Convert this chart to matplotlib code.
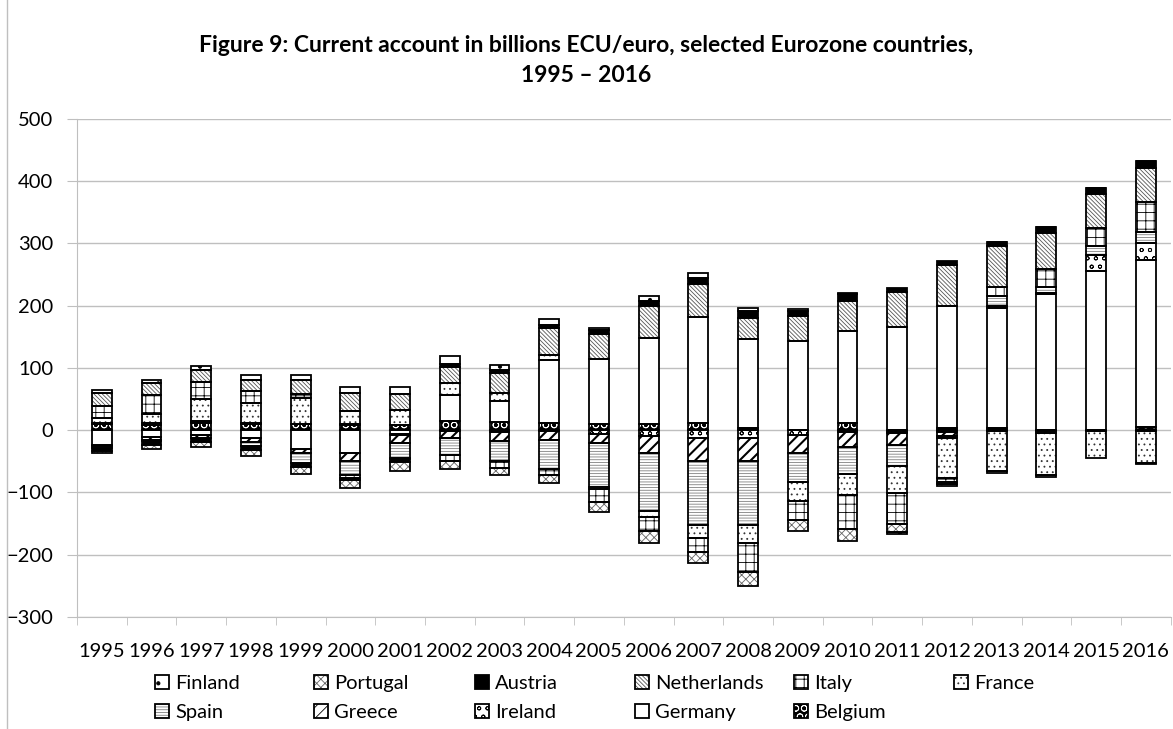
import numpy as np
import matplotlib.pyplot as plt
from matplotlib.lines import Line2D

# Current account by country, billions ECU/euro
years = [str(y) for y in range(1995, 2017)]

# stacking order as in the spreadsheet chart (first = closest to zero)
belgium     = [10, 9, 11, 10, 10, 9, 9, 15, 13, 12, 10, 10, 12, 4, 1, 12, -3, 4, 4, -2, -1, 5]
germany     = [-23, -11, -7, -13, -30, -36, -6, 42, 34, 100, 105, 138, 170, 143, 143, 147, 166, 196, 193, 218, 255, 269]
ireland     = [1, 2, 2, 1, 0, 1, -1, -1, -3, -1, -6, -10, -13, -13, -8, -3, -1, -3, 2, 3, 27, 27]
greece      = [-3, -5, -5, -6, -6, -13, -13, -12, -15, -14, -15, -27, -36, -36, -28, -24, -19, -6, -2, -2, 0, -1]
spain       = [-2, -2, 1, -6, -17, -23, -24, -27, -31, -47, -70, -92, -104, -104, -47, -43, -35, -3, 16, 9, 14, 18]
france      = [9, 15, 36, 33, 41, 21, 24, 18, 13, 8, -4, -10, -20, -28, -31, -34, -43, -64, -64, -68, -44, -52]
italy       = [19, 30, 27, 19, 7, -4, -2, -9, -12, -10, -21, -23, -23, -46, -31, -55, -50, -7, 15, 29, 28, 48]
netherlands = [20, 19, 20, 17, 22, 28, 25, 26, 32, 44, 40, 51, 52, 33, 40, 49, 56, 66, 66, 58, 56, 54]
austria     = [-6, -6, -7, -7, -6, -4, -5, 6, 4, 5, 6, 8, 11, 12, 7, 11, 7, 5, 7, 9, 9, 11]
portugal    = [-3, -6, -8, -10, -11, -13, -14, -13, -11, -13, -15, -19, -17, -23, -17, -19, -12, -3, 0, 0, 0, 0]
finland     = [5, 5, 6, 8, 8, 11, 12, 12, 8, 9, 3, 8, 7, 4, 3, 1, -3, -4, -3, -3, 0, -2]

series = [
    ("Belgium", belgium), ("Germany", germany), ("Ireland", ireland),
    ("Greece", greece), ("Spain", spain), ("France", france),
    ("Italy", italy), ("Netherlands", netherlands), ("Austria", austria),
    ("Portugal", portugal), ("Finland", finland),
]

# face colour, hatch, hatch colour per country
styles = {
    "Belgium":     ("black", "OO", "white"),
    "Germany":     ("white", None, "black"),
    "Ireland":     ("white", "oo", "black"),
    "Greece":      ("white", "///", "black"),
    "Spain":       ("white", "------", "#808080"),
    "France":      ("white", "...", "#333333"),
    "Italy":       ("white", "++", "black"),
    "Netherlands": ("white", "\\\\\\\\\\\\\\\\", "#555555"),
    "Austria":     ("black", None, "black"),
    "Portugal":    ("white", "xxxx", "#666666"),
    "Finland":     ("white", ".", "black"),
}

plt.rcParams['font.family'] = ['Lato', 'DejaVu Sans']
plt.rcParams['hatch.linewidth'] = 0.6

fig = plt.figure(figsize=(11.73, 7.29), dpi=100)
ax = fig.add_axes([0.0656, 0.1536, 0.9324, 0.6834])

x = np.arange(len(years))
width = 0.4
pos_cum = np.zeros(len(years))
neg_cum = np.zeros(len(years))
handles = {}
for name, vals in series:
    v = np.array(vals, dtype=float)
    bottom = np.where(v >= 0, pos_cum, neg_cum)
    face, hatch, hcol = styles[name]
    fill = ax.bar(x, v, width, bottom=bottom, color=face, edgecolor=hcol,
                  hatch=hatch, linewidth=0, zorder=3)
    edge = ax.bar(x, v, width, bottom=bottom, fill=False, edgecolor="black",
                  linewidth=1.3, zorder=4)
    if name == "Greece":
        for b in fill:
            try:
                b.set_hatch_linewidth(1.5)
            except AttributeError:
                pass
    handles[name] = (fill.patches[0], edge.patches[0])
    pos_cum += np.where(v >= 0, v, 0)
    neg_cum += np.where(v < 0, v, 0)

ax.set_xlim(-0.5, len(years) - 0.5)
ax.set_ylim(-300, 500)
ax.set_yticks(np.arange(-300, 501, 100))
ax.set_xticks(x)
ax.set_xticklabels(years)
ax.set_xticks(np.arange(-0.5, len(years), 1), minor=True)
ax.tick_params(axis='x', which='major', length=0, labelsize=14.5, pad=19)
ax.tick_params(axis='x', which='minor', length=6, color="#bfbfbf", direction='out')
ax.tick_params(axis='y', length=7, color="#bfbfbf", labelsize=14.5, pad=10)
ax.grid(axis='y', color="#bfbfbf", linewidth=1, zorder=0)
ax.set_axisbelow(True)
for s in ["top", "right"]:
    ax.spines[s].set_visible(False)
ax.spines["left"].set_color("#bfbfbf")
ax.spines["bottom"].set_color("#bfbfbf")

fig.text(0.5, 1 - 45 / 729, "Figure 9: Current account in billions ECU/euro, selected Eurozone countries,",
         ha="center", va="center", fontsize=16.5, fontweight="bold")
fig.text(0.5, 1 - 75 / 729, "1995 \u2013 2016", ha="center", va="center",
         fontsize=16.5, fontweight="bold")

# legend laid out in columns like the spreadsheet legend
columns = [["Finland", "Spain"], ["Portugal", "Greece"], ["Austria", "Ireland"],
           ["Netherlands", "Germany"], ["Italy", "Belgium"], ["France"]]
col_x = [155, 314, 475, 635, 794, 954]
for cx, names in zip(col_x, columns):
    fig.legend([handles[n] for n in names], names, loc="upper left",
               bbox_to_anchor=(cx / 1173, 1 - 675 / 729), frameon=False,
               fontsize=14.5, handlelength=0.7, handleheight=0.7,
               handletextpad=0.3, labelspacing=0.6, borderpad=0, borderaxespad=0)

fig.add_artist(Line2D([7 / 1173, 7 / 1173], [0, 1], color="#bfbfbf", linewidth=1))

fig.savefig("out.png", dpi=100)
